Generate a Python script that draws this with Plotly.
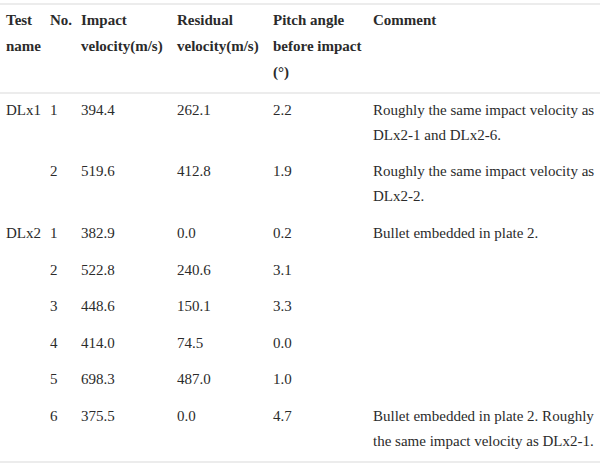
import plotly.graph_objects as go

# Table content
HEADERS = [
    ["Test", "name"],
    ["No."],
    ["Impact", "velocity(m/s)"],
    ["Residual", "velocity(m/s)"],
    ["Pitch angle", "before impact", "(°)"],
    ["Comment"],
]
test_names = ["DLx1", "", "DLx2", "", "", "", "", ""]
test_numbers = ["1", "2", "1", "2", "3", "4", "5", "6"]
impact_velocity = ["394.4", "519.6", "382.9", "522.8", "448.6", "414.0", "698.3", "375.5"]
residual_velocity = ["262.1", "412.8", "0.0", "240.6", "150.1", "74.5", "487.0", "0.0"]
pitch_angle = ["2.2", "1.9", "0.2", "3.1", "3.3", "0.0", "1.0", "4.7"]
comments = [
    ["Roughly the same impact velocity as", "DLx2-1 and DLx2-6."],
    ["Roughly the same impact velocity as", "DLx2-2."],
    ["Bullet embedded in plate 2."],
    [],
    [],
    [],
    [],
    ["Bullet embedded in plate 2. Roughly", "the same impact velocity as DLx2-1."],
]

# layout (page pixels)
W, H = 600, 465
COL_X = [6, 50, 81, 177, 273, 373]
HEADER_Y0 = 21
LINE_H = 26
ROW_Y0 = 111
ROW_STEP = 36.6
RULES_Y = [4, 93, 462]
FONT = "Liberation Serif"
FONT_SIZE = 15
TEXT_COLOR = "#2b2b2b"
RULE_COLOR = "#e6e6e6"

# header cells
hx, hy, ht = [], [], []
for col, lines in enumerate(HEADERS):
    for i, line in enumerate(lines):
        hx.append(COL_X[col])
        hy.append(HEADER_Y0 + i * LINE_H)
        ht.append(line)

# body cells
xs, ys, texts = [], [], []
y = ROW_Y0
columns = [test_names, test_numbers, impact_velocity, residual_velocity, pitch_angle]
for r in range(len(test_numbers)):
    for col, values in enumerate(columns):
        if values[r]:
            xs.append(COL_X[col])
            ys.append(y)
            texts.append(values[r])
    for i, line in enumerate(comments[r]):
        xs.append(COL_X[5])
        ys.append(y + i * 25)
        texts.append(line)
    y += ROW_STEP + 25 * max(0, len(comments[r]) - 1)

fig = go.Figure()
fig.add_trace(go.Scatter(
    x=hx, y=hy, text=ht, mode="text", textposition="middle right",
    textfont=dict(family=FONT, size=FONT_SIZE, color=TEXT_COLOR, weight="bold"),
    hoverinfo="skip", showlegend=False, cliponaxis=False,
))
fig.add_trace(go.Scatter(
    x=xs, y=ys, text=texts, mode="text", textposition="middle right",
    textfont=dict(family=FONT, size=FONT_SIZE, color=TEXT_COLOR),
    hoverinfo="skip", showlegend=False, cliponaxis=False,
))

for ry in RULES_Y:
    fig.add_shape(type="line", x0=0, x1=W, y0=ry, y1=ry,
                  line=dict(color=RULE_COLOR, width=1.5))

fig.update_xaxes(range=[0, W], visible=False, fixedrange=True)
fig.update_yaxes(range=[H, 0], visible=False, fixedrange=True)
fig.update_layout(
    width=W, height=H,
    margin=dict(l=0, r=0, t=0, b=0),
    paper_bgcolor="white", plot_bgcolor="white",
)

fig.write_html(
    "out.html",
    config={"displayModeBar": False},
    post_script="document.body.style.margin='0';",
)
